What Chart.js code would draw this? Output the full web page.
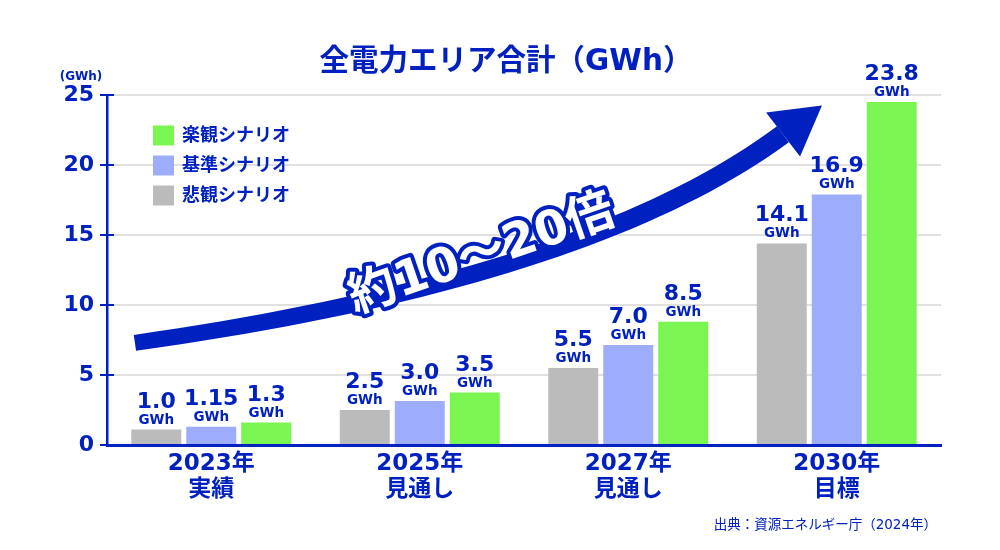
<!DOCTYPE html>
<html lang="ja">
<head>
<meta charset="utf-8">
<title>全電力エリア合計（GWh）</title>
<script src="https://cdn.jsdelivr.net/npm/chart.js@4.4.1/dist/chart.umd.min.js"></script>
<style>
  html, body { margin: 0; padding: 0; background: #fff; }
</style>
</head>
<body>
<canvas id="energyChart" width="1000" height="550"></canvas>
<script>
// data
const categories = [["2023年", "実績"], ["2025年", "見通し"], ["2027年", "見通し"], ["2030年", "目標"]];
const scenarioNames = ["悲観シナリオ", "基準シナリオ", "楽観シナリオ"];
const pessimisticValues = [1.1, 2.5, 5.5, 14.4];
const baseValues = [1.3, 3.15, 7.15, 17.9];
const optimisticValues = [1.6, 3.75, 8.8, 24.5];
const pessimisticLabels = ["1.0", "2.5", "5.5", "14.1"];
const baseLabels = ["1.15", "3.0", "7.0", "16.9"];
const optimisticLabels = ["1.3", "3.5", "8.5", "23.8"];
const chartTitle = "全電力エリア合計（GWh）";

const BLUE = "#0020c0";
const FONT = "'DejaVu Sans', 'Noto Sans CJK JP', sans-serif";

// arrow annotation, in (category, value) units
const arrowPath = {
    start: [-0.366, 7.3],
    ctrl: [1.805, 11.85],
    end: [2.742, 22.2],
    tip: [2.929, 24.25],
    wingA: [2.661, 23.75],
    wingB: [2.824, 20.6]
};
const arrowText = { at: [1.3, 13.5], angle: -19, text: "約10～20倍" };

const decorations = {
    id: "decorations",
    afterDatasetsDraw(chart) {
        const { ctx, chartArea, scales: { x, y } } = chart;
        const px = p => [x.getPixelForValue(p[0]), y.getPixelForValue(p[1])];

        // inner half of the y tick marks
        ctx.save();
        ctx.strokeStyle = BLUE;
        ctx.lineWidth = 2;
        y.ticks.forEach(t => {
            if (t.value === 0) return;
            const yy = y.getPixelForValue(t.value);
            ctx.beginPath();
            ctx.moveTo(chartArea.left, yy);
            ctx.lineTo(chartArea.left + 7, yy);
            ctx.stroke();
        });
        ctx.restore();

        // value labels over bars
        ctx.save();
        ctx.fillStyle = BLUE;
        ctx.textAlign = "center";
        ctx.textBaseline = "alphabetic";
        chart.data.datasets.forEach((ds, di) => {
            chart.getDatasetMeta(di).data.forEach((bar, i) => {
                ctx.font = "bold 22px " + FONT;
                ctx.fillText(ds.valueLabels[i], bar.x, bar.y - 22);
                ctx.font = "bold 13.5px " + FONT;
                ctx.fillText("GWh", bar.x, bar.y - 6);
            });
        });
        ctx.restore();

        // curved arrow
        const P0 = px(arrowPath.start), P1 = px(arrowPath.ctrl), P2 = px(arrowPath.end);
        const sideA = [], sideB = [];
        for (let i = 0; i <= 40; i++) {
            const t = i / 40;
            const bx = (1 - t) * (1 - t) * P0[0] + 2 * t * (1 - t) * P1[0] + t * t * P2[0];
            const by = (1 - t) * (1 - t) * P0[1] + 2 * t * (1 - t) * P1[1] + t * t * P2[1];
            const dx = 2 * (1 - t) * (P1[0] - P0[0]) + 2 * t * (P2[0] - P1[0]);
            const dy = 2 * (1 - t) * (P1[1] - P0[1]) + 2 * t * (P2[1] - P1[1]);
            const len = Math.hypot(dx, dy);
            const half = 8 + 2 * t;
            sideA.push([bx - dy / len * half, by + dx / len * half]);
            sideB.push([bx + dy / len * half, by - dx / len * half]);
        }
        ctx.save();
        ctx.fillStyle = BLUE;
        ctx.beginPath();
        sideA.forEach((p, i) => i ? ctx.lineTo(p[0], p[1]) : ctx.moveTo(p[0], p[1]));
        sideB.reverse().forEach(p => ctx.lineTo(p[0], p[1]));
        ctx.closePath();
        ctx.fill();
        const tip = px(arrowPath.tip), wa = px(arrowPath.wingA), wb = px(arrowPath.wingB);
        ctx.beginPath();
        ctx.moveTo(tip[0], tip[1]);
        ctx.lineTo(wa[0], wa[1]);
        ctx.lineTo(wb[0], wb[1]);
        ctx.closePath();
        ctx.fill();

        // outlined text on the arrow
        const c = px(arrowText.at);
        ctx.translate(c[0], c[1]);
        ctx.rotate(arrowText.angle * Math.PI / 180);
        ctx.font = "bold 48px " + FONT;
        ctx.textAlign = "center";
        ctx.textBaseline = "middle";
        ctx.lineJoin = "round";
        ctx.lineWidth = 8;
        ctx.strokeStyle = BLUE;
        ctx.strokeText(arrowText.text, 0, 0);
        ctx.fillStyle = "#ffffff";
        ctx.fillText(arrowText.text, 0, 0);
        ctx.restore();
    },
    afterDraw(chart) {
        const { ctx, chartArea } = chart;
        ctx.save();
        // title
        ctx.fillStyle = BLUE;
        ctx.font = "bold 29.5px " + FONT;
        ctx.textAlign = "center";
        ctx.textBaseline = "middle";
        ctx.fillText(chartTitle, 506, 62);
        // legend, top to bottom = optimistic first
        chart.data.datasets.slice().reverse().forEach((ds, i) => {
            const top = chartArea.top + 30.5 + i * 30;
            ctx.fillStyle = ds.backgroundColor;
            ctx.fillRect(chartArea.left + 46, top, 21, 20);
            ctx.fillStyle = BLUE;
            ctx.font = "bold 18px " + FONT;
            ctx.textAlign = "left";
            ctx.textBaseline = "middle";
            ctx.fillText(ds.label, chartArea.left + 75, top + 10.5);
        });
        // unit over the y axis
        ctx.font = "bold 12px " + FONT;
        ctx.textAlign = "center";
        ctx.fillText("(GWh)", 81, 77);
        // source note
        ctx.font = "13.5px " + FONT;
        ctx.textAlign = "right";
        ctx.fillText("出典：資源エネルギー庁（2024年）", 937, 525);
        ctx.restore();
    }
};

new Chart(document.getElementById("energyChart"), {
    type: "bar",
    data: {
        labels: categories,
        datasets: [
            { label: scenarioNames[0], data: pessimisticValues, valueLabels: pessimisticLabels, backgroundColor: "#bbbbbb" },
            { label: scenarioNames[1], data: baseValues, valueLabels: baseLabels, backgroundColor: "#9dadfc" },
            { label: scenarioNames[2], data: optimisticValues, valueLabels: optimisticLabels, backgroundColor: "#7af552" }
        ]
    },
    options: {
        responsive: false,
        animation: false,
        categoryPercentage: 0.791,
        barPercentage: 0.909,
        layout: { padding: { top: 95, right: 59, bottom: 0, left: 0 } },
        plugins: {
            legend: { display: false },
            tooltip: { enabled: false },
            title: { display: false }
        },
        scales: {
            x: {
                grid: { display: false, drawTicks: false },
                border: { display: true, color: BLUE, width: 3 },
                ticks: {
                    color: BLUE,
                    padding: 6,
                    font: { family: FONT, size: 23, weight: "bold", lineHeight: 1.12 }
                },
                afterFit(scale) { scale.height = 105; }
            },
            y: {
                min: 0,
                max: 25,
                grid: { color: "#e0e0e0", lineWidth: 2, drawTicks: true, tickLength: 7, tickColor: BLUE, tickWidth: 2 },
                border: { display: true, color: BLUE, width: 2.5 },
                ticks: {
                    stepSize: 5,
                    color: BLUE,
                    padding: 6,
                    font: { family: FONT, size: 22, weight: "bold" }
                },
                afterFit(scale) { scale.width = 107; }
            }
        }
    },
    plugins: [decorations]
});
</script>
</body>
</html>
